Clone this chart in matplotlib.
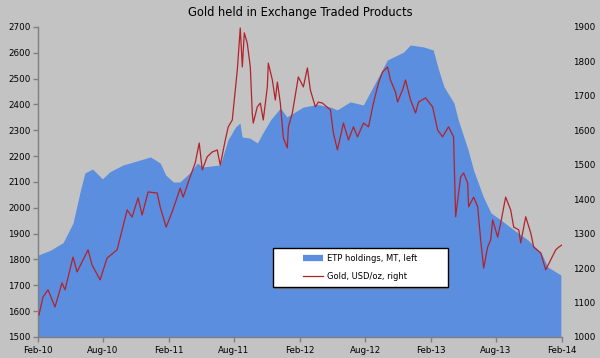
import matplotlib.pyplot as plt
from matplotlib.lines import Line2D
from matplotlib.patches import Rectangle
from matplotlib import transforms
import pandas as pd

# ETP holdings, metric tonnes (left axis); x = months after Feb-2010
etp_month = [0.0, 1.1, 2.3, 3.2, 3.9, 4.3, 5.0, 5.9, 6.6, 7.8, 8.4, 10.3, 11.2, 11.7,
             12.4, 13.0, 13.9, 14.6, 15.1, 16.7, 17.4, 18.1, 18.5, 18.7, 19.4, 20.1,
             20.6, 21.3, 22.2, 22.8, 23.4, 24.3, 25.6, 26.8, 27.4, 28.6, 29.8, 30.7,
             32.0, 33.5, 34.1, 35.3, 36.2, 36.7, 37.2, 38.1, 38.5, 39.4, 39.9, 40.8,
             41.5, 42.4, 43.6, 44.9, 46.1, 46.7, 47.9]
etp_mt = [1817, 1835, 1865, 1940, 2070, 2135, 2150, 2112, 2140, 2166, 2173, 2197, 2173, 2127,
          2100, 2100, 2135, 2173, 2158, 2166, 2263, 2313, 2328, 2274, 2270, 2251,
          2290, 2340, 2386, 2352, 2367, 2390, 2400, 2390, 2379, 2410, 2398, 2468,
          2572, 2603, 2630, 2623, 2611, 2534, 2468, 2406, 2340, 2224, 2146, 2042,
          1980, 1953, 1914, 1875, 1825, 1771, 1740]

# Gold price, USD/oz (right axis)
gold_month = [0.09, 0.46, 0.92, 1.56, 2.20, 2.48, 3.21, 3.58, 4.59, 4.95,
              5.69, 6.33, 7.25, 8.17, 8.62, 9.17, 9.54, 10.09, 10.92, 11.19,
              11.74, 12.29, 13.03, 13.30, 13.94, 14.40, 14.77, 15.05, 15.50, 15.96,
              16.42, 16.70, 17.16, 17.43, 17.80, 17.89, 18.26, 18.53, 18.72, 18.90,
              19.17, 19.45, 19.63, 19.72, 20.09, 20.37, 20.64, 21.01, 21.10, 21.47,
              21.74, 21.93, 22.20, 22.48, 22.84, 22.94, 23.30, 23.85, 24.31, 24.68,
              24.95, 25.41, 25.69, 26.06, 26.79, 27.06, 27.43, 27.98, 28.44, 28.90,
              29.27, 29.82, 30.28, 30.73, 31.19, 31.56, 32.02, 32.29, 32.75, 32.94,
              33.39, 33.67, 34.13, 34.59, 34.86, 35.50, 36.15, 36.61, 37.06, 37.61,
              38.07, 38.26, 38.72, 38.99, 39.36, 39.45, 39.91, 40.28, 40.55, 40.83,
              41.19, 41.47, 41.65, 42.11, 42.39, 42.84, 43.30, 43.58, 44.04, 44.22,
              44.68, 45.14, 45.41, 46.06, 46.51, 46.97, 47.43, 47.71, 48.00]
gold_usd = [1064, 1116, 1137, 1087, 1157, 1137, 1232, 1189, 1253, 1209,
            1166, 1229, 1253, 1369, 1348, 1404, 1354, 1421, 1418, 1378,
            1319, 1363, 1432, 1406, 1465, 1505, 1563, 1485, 1523, 1537,
            1543, 1499, 1572, 1610, 1630, 1659, 1775, 1897, 1784, 1883,
            1853, 1784, 1650, 1621, 1668, 1679, 1630, 1726, 1795, 1746,
            1688, 1740, 1679, 1578, 1549, 1610, 1650, 1755, 1726, 1781,
            1717, 1668, 1682, 1679, 1659, 1592, 1543, 1621, 1572, 1610,
            1581, 1621, 1610, 1679, 1737, 1769, 1784, 1746, 1711, 1682,
            1717, 1746, 1688, 1650, 1682, 1694, 1668, 1601, 1581, 1610,
            1581, 1349, 1465, 1476, 1447, 1378, 1406, 1378, 1282, 1200,
            1261, 1282, 1340, 1290, 1331, 1406, 1369, 1319, 1311, 1273,
            1349, 1302, 1261, 1244, 1195, 1224, 1253, 1261, 1267]

tick_labels = ["Feb-10", "Aug-10", "Feb-11", "Aug-11", "Feb-12", "Aug-12", "Feb-13", "Aug-13", "Feb-14"]

start = pd.Timestamp("2010-02-01")
def to_dates(months):
    return [start + pd.Timedelta(days=m * 30.4375) for m in months]

etp_dates = to_dates(etp_month)
gold_dates = to_dates(gold_month)
ticks = [start + pd.DateOffset(months=6 * i) for i in range(len(tick_labels))]

bg = "#c3c3c3"
fill_col = "#5b8ede"
line_col = "#b3222a"

fig = plt.figure(figsize=(6, 3.58), dpi=100, facecolor=bg)
ax = fig.add_axes([0.0633, 0.0587, 0.8733, 0.866])
ax.set_facecolor(bg)
ax.fill_between(etp_dates, etp_mt, 1500, color=fill_col, lw=0)
ax.set_ylim(1500, 2700)
ax.set_yticks(range(1500, 2701, 100))
ax.set_xlim(start, ticks[-1])
ax.set_xticks(ticks)
ax.set_xticklabels(tick_labels)

ax2 = ax.twinx()
ax2.plot(gold_dates, gold_usd, color=line_col, lw=0.9)
ax2.set_ylim(1000, 1900)
ax2.set_yticks(range(1000, 1901, 100))

for a in (ax, ax2):
    for s in ("top", "right"):
        a.spines[s].set_visible(False)
ax2.spines["left"].set_visible(False)
ax2.spines["bottom"].set_visible(False)
for s in ("left", "bottom"):
    ax.spines[s].set_color("#808080")
    ax.spines[s].set_linewidth(1.0)

ax.tick_params(axis="both", labelsize=6.3, colors="#808080", labelcolor="black", length=3.5, width=1)
ax.tick_params(axis="x", pad=3)
ax.tick_params(axis="y", pad=2)
ax2.tick_params(axis="y", labelsize=6.3, length=0, pad=8, labelcolor="black")

fig.text(0.5, 0.965, "Gold held in Exchange Traded Products", ha="center", va="center", fontsize=8.3)

# legend box drawn by hand so the entries sit in its middle
bx, by, bw, bh = 0.448, 0.161, 0.334, 0.126
shadow_tr = transforms.offset_copy(ax2.transAxes, fig=fig, x=1.5, y=-1.5, units="dots")
ax2.add_patch(Rectangle((bx, by), bw, bh, transform=shadow_tr, facecolor="#7a7a7a",
                        edgecolor="none", zorder=6, clip_on=False))
ax2.add_patch(Rectangle((bx, by), bw, bh, transform=ax2.transAxes, facecolor="white",
                        edgecolor="black", lw=1.0, zorder=7, clip_on=False))

handles = [Line2D([], [], color=fill_col, lw=4.5, solid_capstyle="butt"),
           Line2D([], [], color=line_col, lw=0.9)]
leg = ax2.legend(handles, ["ETP holdings, MT, left", "Gold, USD/oz, right"],
                 loc="center", bbox_to_anchor=(bx + bw / 2, by + bh / 2),
                 fontsize=6, frameon=False, handlelength=2.4, handletextpad=0.4,
                 borderpad=0, labelspacing=1.0, borderaxespad=0)
leg.set_zorder(8)

fig.savefig("out.png", dpi=100, facecolor=bg)
